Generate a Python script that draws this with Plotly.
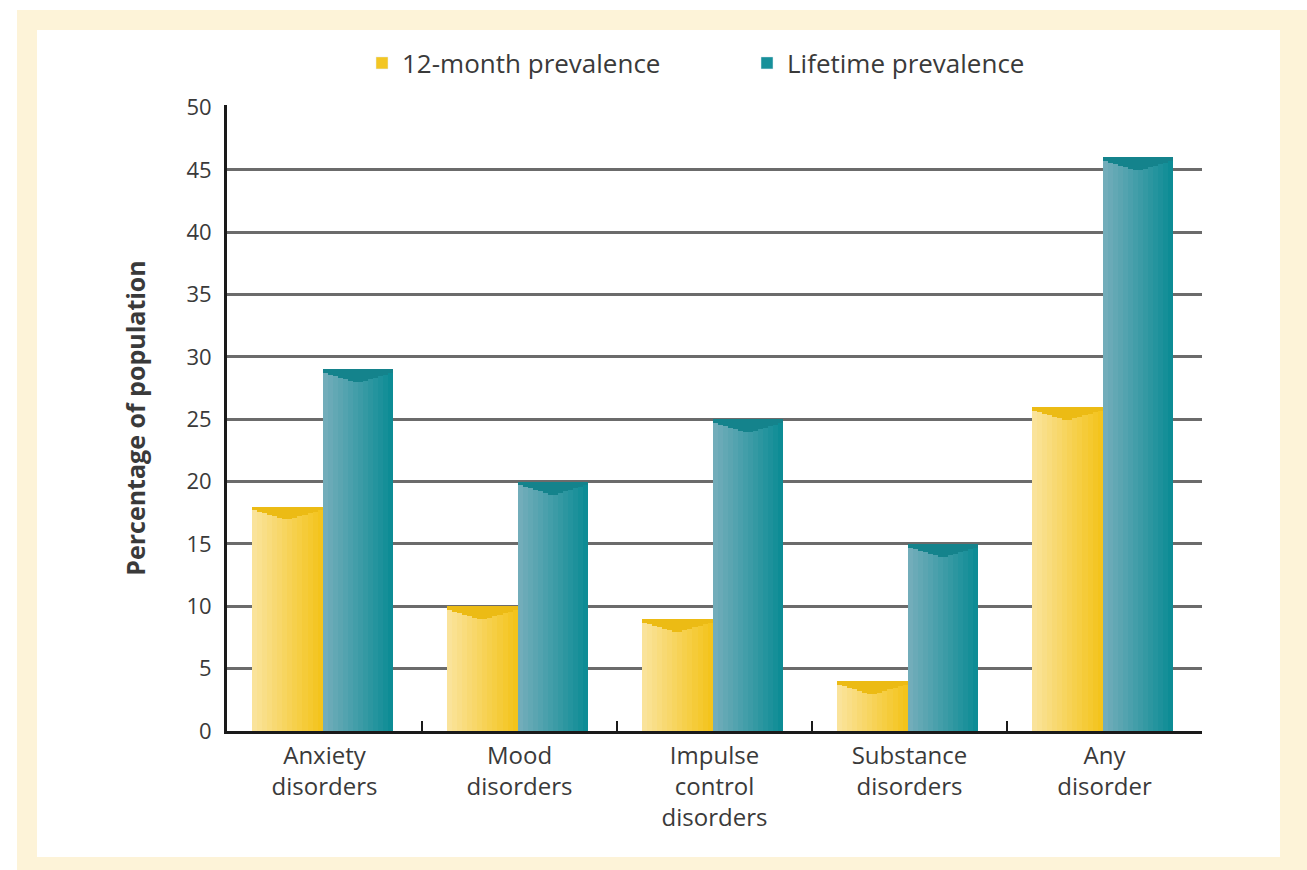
import plotly.graph_objects as go

categories = ["Anxiety<br>disorders", "Mood<br>disorders", "Impulse<br>control<br>disorders",
              "Substance<br>disorders", "Any<br>disorder"]
twelve_month = [18, 10, 9, 4, 26]
lifetime = [29, 20, 25, 15, 46]
series_names = ["12-month prevalence", "Lifetime prevalence"]
y_ticks = [0, 5, 10, 15, 20, 25, 30, 35, 40, 45, 50]
grid_ticks = [5, 10, 15, 20, 25, 30, 35, 40, 45]

FONT = "'Open Sans', Lato, sans-serif"
TXT = "#3a3a3a"

# plot-area geometry (pixels) used to place decorative frame shapes
L, R, T, B = 227, 105, 105, 139
W, H = 1307, 870
PW, PH = W - L - R, H - T - B


def px_x(p):
    return (p - L) / PW


def px_y(p):
    return (H - B - p) / PH


def lerp(c1, c2, t):
    a = [int(c1[i:i + 2], 16) for i in (1, 3, 5)]
    b = [int(c2[i:i + 2], 16) for i in (1, 3, 5)]
    return "rgb(%d,%d,%d)" % tuple(round(a[k] + (b[k] - a[k]) * t) for k in range(3))


fig = go.Figure()

NSTRIP = 14
BW = 0.36
series = [
    (twelve_month, -0.37, "#fae39a", "#f4c41c", "#ecbb14", "#f3c623"),
    (lifetime, -0.01, "#72adba", "#0d8c95", "#14838c", "#17909a"),
]
for si, (vals, off, c_left, c_right, c_cap, c_leg) in enumerate(series):
    sw = BW / NSTRIP
    for k in range(NSTRIP):
        t = k / (NSTRIP - 1)
        fig.add_trace(go.Bar(
            x=categories, y=vals, offset=off + k * sw, width=sw * 1.04,
            marker=dict(color=lerp(c_left, c_right, t), line=dict(width=0)),
            showlegend=False, hoverinfo="skip",
        ))
        # darker V-shaped cap at top of each bar
        depth = 0.3 + 0.8 * (1 - abs(2 * t - 1))
        fig.add_trace(go.Bar(
            x=categories, y=[depth] * len(vals), base=[v - depth for v in vals],
            offset=off + k * sw, width=sw * 1.04,
            marker=dict(color=c_cap, line=dict(width=0)),
            showlegend=False, hoverinfo="skip",
        ))
    # legend entry
    fig.add_trace(go.Bar(
        x=[categories[0]], y=[None], name=series_names[si],
        marker=dict(color=c_leg), showlegend=True,
    ))

shapes = [
    dict(type="rect", xref="paper", yref="paper", layer="below",
         x0=px_x(17), x1=px_x(1320), y0=px_y(880), y1=px_y(10),
         fillcolor="#fdf3d8", line=dict(width=0)),
    dict(type="rect", xref="paper", yref="paper", layer="below",
         x0=px_x(37), x1=px_x(1280), y0=px_y(857), y1=px_y(30),
         fillcolor="#ffffff", line=dict(width=0)),
]

fig.update_layout(
    width=W, height=H,
    margin=dict(l=L, r=R, t=T, b=B),
    paper_bgcolor="#ffffff", plot_bgcolor="rgba(0,0,0,0)",
    barmode="overlay", bargap=0,
    font=dict(family=FONT, color=TXT, size=22),
    shapes=shapes,
    showlegend=True,
    legend=dict(orientation="h", x=px_x(362), y=px_y(63), xanchor="left", yanchor="middle",
                font=dict(size=26, color=TXT), bgcolor="rgba(0,0,0,0)",
                entrywidth=340, entrywidthmode="pixels", itemwidth=30,
                traceorder="normal"),
    xaxis=dict(
        type="category", showline=True, linecolor="#1a1a1a", linewidth=3,
        ticks="inside", tickson="boundaries", ticklen=10, tickwidth=2, tickcolor="#1a1a1a",
        showgrid=False, tickfont=dict(size=24, color=TXT, family=FONT),
        ticklabelstandoff=1, fixedrange=True,
    ),
    yaxis=dict(
        range=[0, 50.2], tickvals=y_ticks, ticktext=[str(v) for v in y_ticks],
        showline=True, linecolor="#1a1a1a", linewidth=3, ticks="",
        showgrid=False, zeroline=False,
        tickfont=dict(size=22, color=TXT, family=FONT), ticklabelstandoff=8,
        title=dict(text="<b>Percentage of population</b>", standoff=34,
                   font=dict(size=25, color=TXT, family=FONT)),
        fixedrange=True,
    ),
    yaxis2=dict(
        overlaying="y", matches="y", side="left", tickvals=grid_ticks,
        showticklabels=False, ticks="", showline=False, zeroline=False,
        showgrid=True, gridcolor="#6b6b6b", gridwidth=2.5, fixedrange=True,
        layer="below traces",
    ),
)

# invisible trace to anchor the grid axis
fig.add_trace(go.Scatter(x=[categories[0]], y=[None], yaxis="y2", showlegend=False,
                         hoverinfo="skip", mode="markers"))

fig.write_html("out.html")
